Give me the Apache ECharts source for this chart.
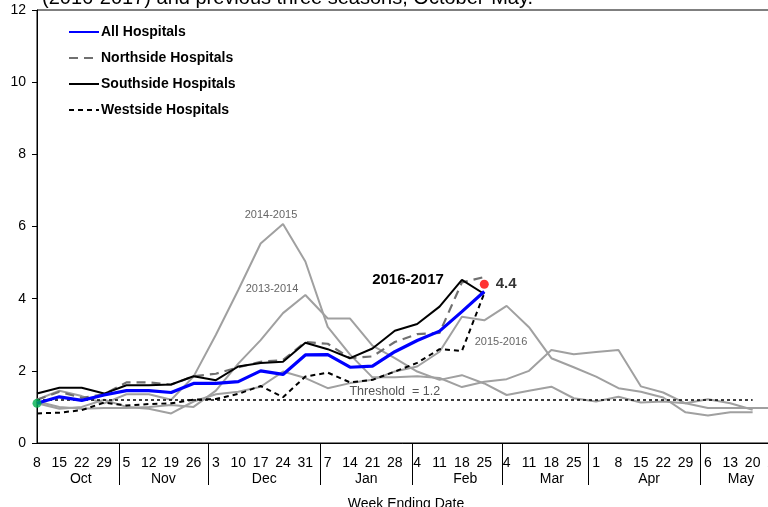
<!DOCTYPE html>
<html>
<head>
<meta charset="utf-8">
<script src="https://cdn.jsdelivr.net/npm/echarts@6/dist/echarts.min.js"></script>
<style>
  html, body { margin: 0; padding: 0; background: #fff; }
  #chart { width: 768px; height: 507px; }
</style>
</head>
<body>
<div id="chart"></div>
<script>
// week ending dates, grouped by month
var weekMonths = ['Oct','Oct','Oct','Oct','Nov','Nov','Nov','Nov','Dec','Dec','Dec','Dec','Dec',
  'Jan','Jan','Jan','Jan','Feb','Feb','Feb','Feb','Mar','Mar','Mar','Mar',
  'Apr','Apr','Apr','Apr','Apr','May','May','May','May'];
var weekDays = ['8','15','22','29','5','12','19','26','3','10','17','24','31',
  '7','14','21','28','4','11','18','25','4','11','18','25',
  '1','8','15','22','29','6','13','20','27'];
var months = ['Oct','Nov','Dec','Jan','Feb','Mar','Apr','May'];

// 2016-2017 season
var allHospitals = [1.1, 1.28, 1.18, 1.33, 1.45, 1.45, 1.4, 1.65, 1.65, 1.7, 2.0, 1.9, 2.44, 2.45, 2.1, 2.13, 2.53, 2.84, 3.1, 3.64, 4.2];
var northside = [1.2, 1.42, 1.25, 1.35, 1.68, 1.68, 1.62, 1.85, 1.92, 2.1, 2.25, 2.3, 2.8, 2.75, 2.35, 2.4, 2.8, 3.02, 3.05, 4.45, 4.6];
var southside = [1.37, 1.53, 1.53, 1.37, 1.6, 1.6, 1.62, 1.85, 1.74, 2.12, 2.22, 2.25, 2.78, 2.6, 2.35, 2.62, 3.11, 3.3, 3.78, 4.52, 4.13];
var westside = [0.82, 0.84, 0.91, 1.12, 1.04, 1.08, 1.1, 1.2, 1.22, 1.36, 1.58, 1.27, 1.84, 1.95, 1.68, 1.75, 1.98, 2.22, 2.6, 2.55, 4.15];

// previous seasons
var season1314 = [1.15, 1.0, 0.95, 0.97, 0.97, 1.0, 1.05, 1.0, 1.45, 2.2, 2.85, 3.6, 4.1, 3.45, 3.45, 2.7, 2.35, 1.98, 1.75, 1.88, 1.65, 1.33, 1.45, 1.56, 1.24, 1.15, 1.28, 1.12, 1.15, 1.1, 1.21, 1.1, 0.92];
var season1415 = [1.2, 1.45, 1.3, 1.1, 1.35, 1.35, 1.2, 1.84, 3.0, 4.24, 5.53, 6.07, 5.03, 3.22, 2.45, 1.82, 1.82, 1.85, 1.8, 1.55, 1.7, 1.77, 2.0, 2.58, 2.46, 2.52, 2.58, 1.57, 1.4, 1.1, 0.97, 0.97, 0.97, 0.97];
var season1516 = [1.1, 0.95, 1.0, 1.2, 1.0, 0.95, 0.82, 1.15, 1.35, 1.42, 1.56, 1.98, 1.8, 1.52, 1.66, 1.75, 1.98, 2.12, 2.53, 3.5, 3.4, 3.8, 3.21, 2.35, 2.1, 1.84, 1.52, 1.42, 1.26, 0.85, 0.76, 0.85, 0.85];

var threshold = 1.2;
var latestValue = 4.4;

var categories = weekDays.map(function (d, i) { return weekMonths[i] + ' ' + d; });

// month separators and month label spots along the week index
var monthBreaks = [3.67, 7.67, 12.66, 16.76, 20.79, 24.66, 29.65];
var monthSpots = [1.96, 5.65, 10.16, 14.72, 19.15, 23.02, 27.37, 31.48];

var font = 'Liberation Sans, Arial, sans-serif';
var grey = '#a0a0a0';

var chart = echarts.init(document.getElementById('chart'));

function seasonLine(name, data) {
    return {
        name: name, type: 'line', data: data, symbol: 'none', silent: true,
        color: grey, lineStyle: { color: grey, width: 2 }, z: 1
    };
}

function hospitalLine(name, data, color, width, dash, z) {
    return {
        name: name, type: 'line', data: data, symbol: 'none', z: z,
        color: color, itemStyle: { color: color },
        lineStyle: { color: color, width: width, type: dash }
    };
}

var startData = allHospitals.map(function (v, i) { return i === 0 ? v : '-'; });
var endData = allHospitals.map(function (v, i) { return i === allHospitals.length - 1 ? latestValue : '-'; });

var allSeries = hospitalLine('All Hospitals', allHospitals, '#0000ff', 3.2, 'solid', 5);
allSeries.markLine = {
    silent: true, symbol: 'none',
    lineStyle: { color: '#000', width: 1.5, type: [3, 3] },
    label: {
        show: true, position: 'insideMiddleTop', distance: 2,
        formatter: 'Threshold  = ' + threshold,
        color: '#555', fontFamily: font, fontSize: 12.5
    },
    data: [[{ coord: [0, threshold] }, { coord: [32, threshold] }]]
};

var option = {
    animation: false,
    backgroundColor: '#fff',
    title: {
        text: '(2016-2017) and previous three seasons, October-May.',
        left: 37, top: -17,
        textStyle: { fontFamily: font, fontSize: 20, fontWeight: 'normal', color: '#000' }
    },
    grid: {
        left: 37, right: -7, top: 10, bottom: 64,
        outerBoundsMode: 'none', containLabel: false,
        show: true, borderColor: '#000', borderWidth: 1
    },
    legend: {
        data: ['All Hospitals', 'Northside Hospitals', 'Southside Hospitals', 'Westside Hospitals'],
        orient: 'vertical', left: 68, top: 25, padding: 0,
        itemWidth: 30, itemHeight: 14, itemGap: 12,
        itemStyle: { opacity: 0 },
        textStyle: { fontFamily: font, fontSize: 14, fontWeight: 'bold', color: '#000', padding: [0, 0, 0, -3] }
    },
    xAxis: [{
        type: 'category',
        data: categories,
        boundaryGap: false,
        axisLine: { lineStyle: { color: '#000', width: 1 } },
        axisTick: { show: false },
        axisLabel: {
            interval: 0, margin: 13, color: '#000', fontFamily: font, fontSize: 14,
            formatter: function (v) { return v.split(' ')[1]; }
        },
        name: 'Week Ending Date',
        nameLocation: 'middle', nameGap: 54,
        nameTextStyle: { fontFamily: font, fontSize: 14, color: '#000' }
    }, {
        type: 'value',
        position: 'bottom',
        min: 0, max: categories.length - 1,
        axisLine: { show: false },
        splitLine: { show: false },
        axisTick: {
            show: true, length: 42, customValues: monthBreaks,
            lineStyle: { color: '#000', width: 1 }
        },
        axisLabel: {
            show: true, margin: 29, color: '#000', fontFamily: font, fontSize: 14,
            customValues: monthSpots,
            formatter: function (v) { return months[monthSpots.indexOf(v)]; }
        }
    }],
    yAxis: {
        type: 'value', min: 0, max: 12, interval: 2,
        axisLine: { show: true, lineStyle: { color: '#000', width: 1 } },
        axisTick: { show: true, length: 5, lineStyle: { color: '#000' } },
        splitLine: { show: false },
        axisLabel: { margin: 11, color: '#000', fontFamily: font, fontSize: 14 }
    },
    series: [
        seasonLine('2013-2014', season1314),
        seasonLine('2014-2015', season1415),
        seasonLine('2015-2016', season1516),
        hospitalLine('Westside Hospitals', westside, '#000', 2, [5, 4], 3),
        hospitalLine('Northside Hospitals', northside, '#707070', 2.2, [9, 6], 3),
        hospitalLine('Southside Hospitals', southside, '#000', 2, 'solid', 4),
        allSeries,
        {
            name: 'start', type: 'scatter', data: startData, symbolSize: 9, z: 6,
            itemStyle: { color: '#00b050' }
        },
        {
            name: 'latest', type: 'scatter', data: endData, symbolSize: 9, z: 6,
            itemStyle: { color: '#ff0000' },
            label: {
                show: true, position: 'right', distance: 7,
                formatter: function (p) { return p.value.toFixed(1); },
                color: '#000', fontFamily: font, fontSize: 15, fontWeight: 'bold'
            }
        }
    ],
    graphic: [
        { type: 'text', x: 271, y: 215, style: { text: '2014-2015', fill: '#666', font: '11px ' + font, textAlign: 'center', textVerticalAlign: 'middle' } },
        { type: 'text', x: 272, y: 289, style: { text: '2013-2014', fill: '#666', font: '11px ' + font, textAlign: 'center', textVerticalAlign: 'middle' } },
        { type: 'text', x: 501, y: 342, style: { text: '2015-2016', fill: '#666', font: '11px ' + font, textAlign: 'center', textVerticalAlign: 'middle' } },
        { type: 'text', x: 408, y: 280, style: { text: '2016-2017', fill: '#000', font: 'bold 15px ' + font, textAlign: 'center', textVerticalAlign: 'middle' } }
    ]
};

chart.setOption(option);
</script>
</body>
</html>
